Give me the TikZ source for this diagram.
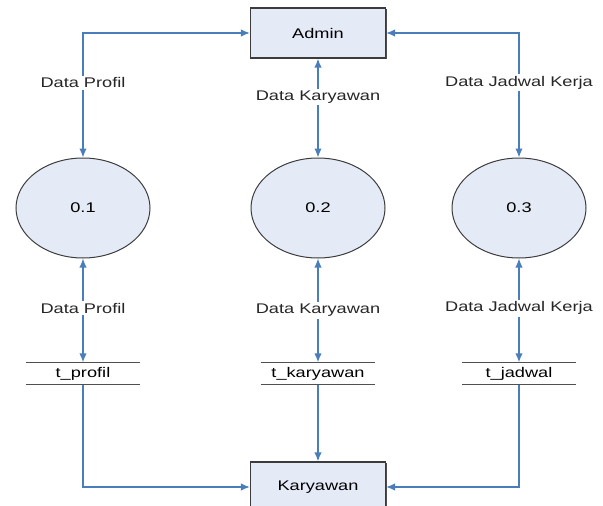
\documentclass[tikz,border=0pt]{standalone}
\usepackage{fontspec}
\setmainfont{Liberation Sans}[FakeStretch=1.3]
\usepackage{tikz}
\usetikzlibrary{positioning, arrows.meta, shapes.geometric, shadows}
\definecolor{flowblue}{RGB}{74,126,187}
\definecolor{boxfill}{RGB}{228,234,246}
\definecolor{edgegray}{RGB}{60,60,60}

\begin{document}
\begin{tikzpicture}[
  x=1pt, y=-1pt,
  font=\fontsize{14}{16}\selectfont,
  entity/.style={rectangle, draw=edgegray, line width=1.2pt, fill=boxfill, minimum width=135pt, minimum height=50pt,
    drop shadow={shadow xshift=1.2pt, shadow yshift=-1.2pt, fill=black!70, opacity=1}},
  proc/.style={ellipse, draw=edgegray, line width=1pt, fill=boxfill, minimum width=134pt, minimum height=100pt},
  store/.style={rectangle, minimum width=114pt, minimum height=22pt, inner sep=0pt},
  storeline/.style={draw=edgegray!90, line width=1.3pt},
  flow/.style={draw=flowblue, line width=1.4pt, >={Latex[length=9pt,width=7.5pt]}},
  lbl/.style={fill=white, inner sep=2pt, text=black!85}
]
\useasboundingbox (0,0) rectangle (603,506);

% entities
\node[entity] (admin) at (318,33) {Admin};
\node[entity] (kary) at (318,487) {Karyawan};

% processes
\node[proc] (p1) at (83,208) {0.1};
\node[proc] (p2) at (318,208) {0.2};
\node[proc] (p3) at (519,208) {0.3};

% data stores
\node[store] (s1) at (83,373.5) {t\_profil};
\node[store] (s2) at (318,373.5) {t\_karyawan};
\node[store] (s3) at (519,373.5) {t\_jadwal};
\draw[storeline] (s1.north west) -- (s1.north east) (s1.south west) -- (s1.south east);
\draw[storeline] (s2.north west) -- (s2.north east) (s2.south west) -- (s2.south east);
\draw[storeline] (s3.north west) -- (s3.north east) (s3.south west) -- (s3.south east);

% flows to admin
\draw[flow, <->] (p1.north) |- node[lbl, pos=0.3] {Data Profil} (admin.west);
\draw[flow, <->] (admin.south) -- node[lbl, pos=0.39] {Data Karyawan} (p2.north);
\draw[flow, <->] (p3.north) |- node[lbl, pos=0.3] {Data Jadwal Kerja} (admin.east);

% flows to stores
\draw[flow, <->] (p1.south) -- node[lbl, pos=0.48] {Data Profil} (s1.north);
\draw[flow, <->] (p2.south) -- node[lbl, pos=0.5] {Data Karyawan} (s2.north);
\draw[flow, <->] (p3.south) -- node[lbl, pos=0.48] {Data Jadwal Kerja} (s3.north);

% flows to karyawan
\draw[flow, ->] (s1.south) |- (kary.west);
\draw[flow, ->] (s2.south) -- (kary.north);
\draw[flow, ->] (s3.south) |- (kary.east);
\end{tikzpicture}
\end{document}
